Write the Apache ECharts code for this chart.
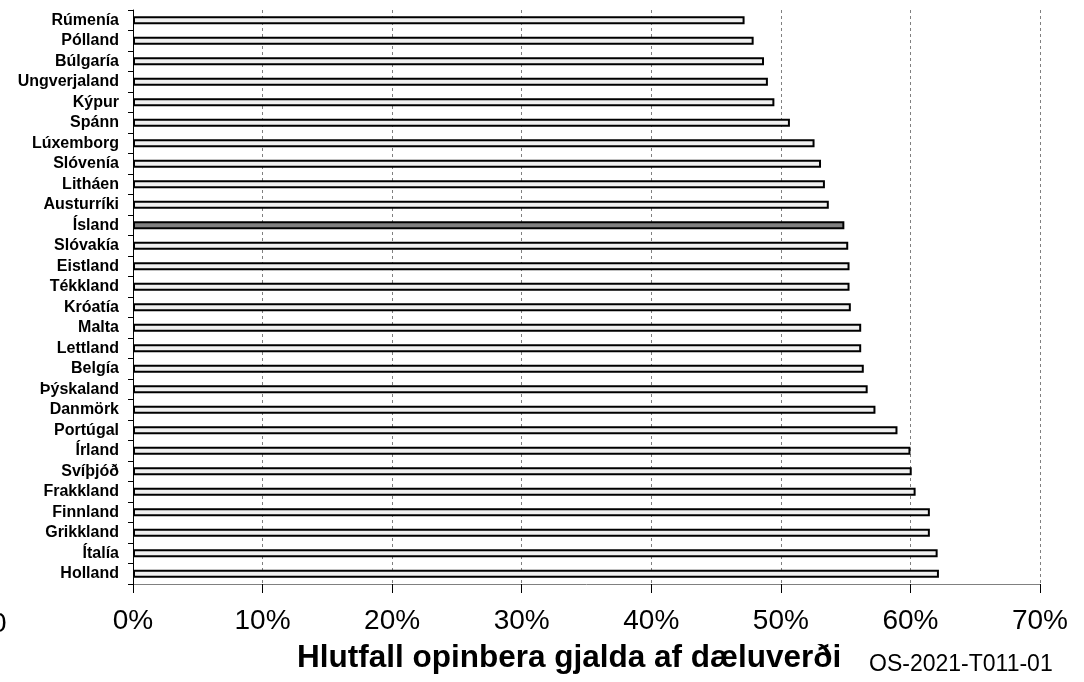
<!DOCTYPE html>
<html>
<head>
<meta charset="utf-8">
<script src="https://cdn.jsdelivr.net/npm/echarts@6/dist/echarts.min.js"></script>
<style>
html,body{margin:0;padding:0;background:#fff;}
#chart{width:1084px;height:682px;}
</style>
</head>
<body>
<div id="chart"></div>
<script>
const categories = ["Rúmenía","Pólland","Búlgaría","Ungverjaland","Kýpur","Spánn","Lúxemborg","Slóvenía","Litháen","Austurríki","Ísland","Slóvakía","Eistland","Tékkland","Króatía","Malta","Lettland","Belgía","Þýskaland","Danmörk","Portúgal","Írland","Svíþjóð","Frakkland","Finnland","Grikkland","Ítalía","Holland"];
const values = [47.2,47.9,48.7,49.0,49.5,50.7,52.6,53.1,53.4,53.7,54.9,55.2,55.3,55.3,55.4,56.2,56.2,56.4,56.7,57.3,59.0,60.0,60.1,60.4,61.5,61.5,62.1,62.2];
const xTicks = [0,10,20,30,40,50,60,70];
const highlight = "Ísland";
const xTitle = "Hlutfall opinbera gjalda af dæluverði";
const footer = "OS-2021-T011-01";

const FONT = "'Liberation Sans', Arial, sans-serif";
const chart = echarts.init(document.getElementById('chart'), null, {renderer:'canvas'});
const seriesData = values.map((v,i)=>({
  value: v,
  itemStyle: categories[i]===highlight ? {color:'#808080'} : undefined
}));
chart.setOption({
  animation:false,
  backgroundColor:'#ffffff',
  grid:{left:133,right:44,top:10,bottom:98,containLabel:false},
  xAxis:{
    type:'value',min:xTicks[0],max:xTicks[xTicks.length-1],interval:10,
    axisLine:{show:true,lineStyle:{color:'#808080',width:1}},
    axisTick:{show:true,length:9,lineStyle:{color:'#000',width:1}},
    axisLabel:{formatter:'{value}%',fontFamily:FONT,fontSize:28,color:'#000',margin:23},
    splitLine:{show:true,lineStyle:{color:'#808080',type:[3,3],width:1}}
  },
  yAxis:{
    type:'category',inverse:true,data:categories,
    axisLine:{show:true,lineStyle:{color:'#000',width:1}},
    axisTick:{show:true,length:5,lineStyle:{color:'#000'}},
    axisLabel:{fontFamily:FONT,fontSize:16,fontWeight:'bold',color:'#000',margin:14,interval:0}
  },
  series:[{
    type:'bar',data:seriesData,barWidth:8,
    itemStyle:{color:'#f0f0f0',borderColor:'#000',borderWidth:2}
  }],
  graphic:[
    {type:'text',left:-9,top:610,style:{text:'0',font:'28px '+FONT,fill:'#000'}},
    {type:'text',left:297,top:642,style:{text:xTitle,font:'bold 31.5px '+FONT,fill:'#000'}},
    {type:'text',left:869,top:653,style:{text:footer,font:'23px '+FONT,fill:'#000'}}
  ]
});
</script>
</body>
</html>
